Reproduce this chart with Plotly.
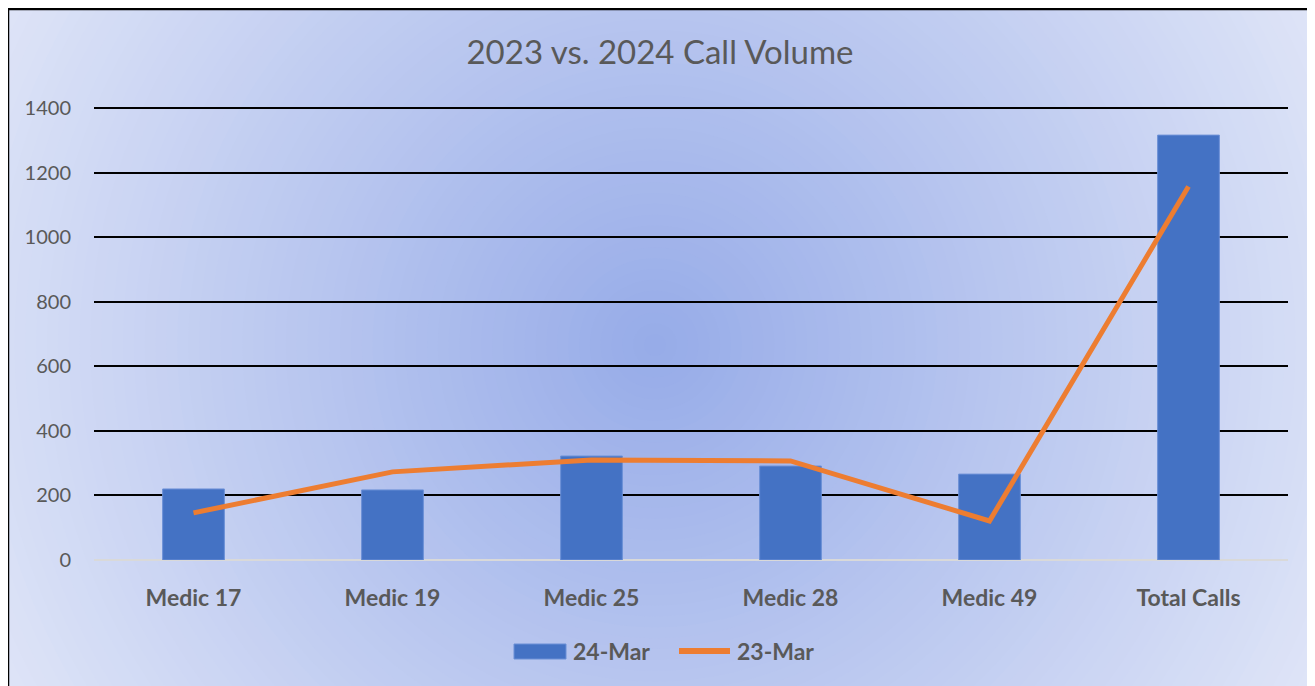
import plotly.graph_objects as go

units = ["Medic 17", "Medic 19", "Medic 25", "Medic 28", "Medic 49", "Total Calls"]
calls_24 = [220, 217, 322, 291, 266, 1316]
calls_23 = [146, 273, 310, 307, 121, 1157]
y_ticks = [0, 200, 400, 600, 800, 1000, 1200, 1400]

# page has an 8px body margin, so the figure is a bit smaller than the window
W, H = 1307, 678
ml, mr, mt, mb = 86, 27, 98, 126
pw, ph = W - ml - mr, H - mt - mb
y_top = 1400 * ph / (ph - 2)  # keep the 1400 gridline just inside the plot area


def px_x(p):
    return (p - ml) / pw


def px_y(p):
    return (H - mb - p) / ph


# radial background, drawn as concentric circles (pixel space -> paper)
shapes = []
cx, cy = 647, 337
c_in = (150, 171, 232)
c_out = (222, 228, 247)
rmax = 760
steps = 70
for i in range(steps, 0, -1):
    r = rmax * i / steps
    t = min(1.0, r / 740)
    col = tuple(round(a + (b - a) * t) for a, b in zip(c_in, c_out))
    shapes.append(dict(type="circle", xref="paper", yref="paper", layer="below",
                       x0=px_x(cx - r), x1=px_x(cx + r), y0=px_y(cy + r), y1=px_y(cy - r),
                       line_width=0, fillcolor="rgb(%d,%d,%d)" % col))
# chart frame
shapes.append(dict(type="rect", xref="paper", yref="paper", layer="below",
                   x0=px_x(0), x1=px_x(W + 20), y0=px_y(H + 20), y1=px_y(1),
                   line=dict(color="black", width=2.5), fillcolor="rgba(0,0,0,0)"))

# legend drawn by hand (wide swatches like the original)
leg_y = px_y(643)
shapes.append(dict(type="rect", xref="paper", yref="paper",
                   x0=px_x(506), x1=px_x(558), y0=px_y(651), y1=px_y(636),
                   line=dict(color="#6a8fd6", width=1), fillcolor="#4472c4"))
shapes.append(dict(type="line", xref="paper", yref="paper",
                   x0=px_x(671), x1=px_x(722), y0=leg_y, y1=leg_y,
                   line=dict(color="#ed7d31", width=6)))
legend_font = dict(size=23, color="#595959", weight="bold")
annotations = [
    dict(text="24-Mar", xref="paper", yref="paper", x=px_x(563), y=leg_y,
         xanchor="left", yanchor="middle", showarrow=False, font=legend_font),
    dict(text="23-Mar", xref="paper", yref="paper", x=px_x(727), y=leg_y,
         xanchor="left", yanchor="middle", showarrow=False, font=legend_font),
]

fig = go.Figure()
fig.add_trace(go.Bar(x=units, y=calls_24, name="24-Mar", width=0.31,
                     marker=dict(color="#4472c4", line=dict(color="#6a8fd6", width=1))))
fig.add_trace(go.Scatter(x=units, y=calls_23, name="23-Mar", mode="lines",
                         line=dict(color="#ed7d31", width=5)))

fig.update_layout(
    width=W, height=H,
    margin=dict(l=ml, r=mr, t=mt, b=mb),
    paper_bgcolor="rgb(222,228,247)",
    plot_bgcolor="rgba(0,0,0,0)",
    font=dict(family="Lato, Noto Sans, sans-serif", color="#595959"),
    title=dict(text="2023 vs. 2024 Call Volume", x=(660 - 8) / W, xanchor="center",
               y=1 - 44 / H, yanchor="middle",
               font=dict(size=33, color="#595959")),
    shapes=shapes,
    annotations=annotations,
    showlegend=False,
)
fig.update_xaxes(showgrid=False, ticks="", tickfont=dict(size=23, color="#595959", weight="bold"),
                 ticklabelstandoff=22, showline=False, zeroline=False)
fig.update_yaxes(range=[0, y_top], tickvals=y_ticks, showgrid=True, gridcolor="black",
                 gridwidth=2, zeroline=True, zerolinecolor="#d9d9d9", zerolinewidth=2,
                 tickfont=dict(size=20, color="#595959"), ticklabelstandoff=22,
                 showline=False)

fig.write_html("out.html")
